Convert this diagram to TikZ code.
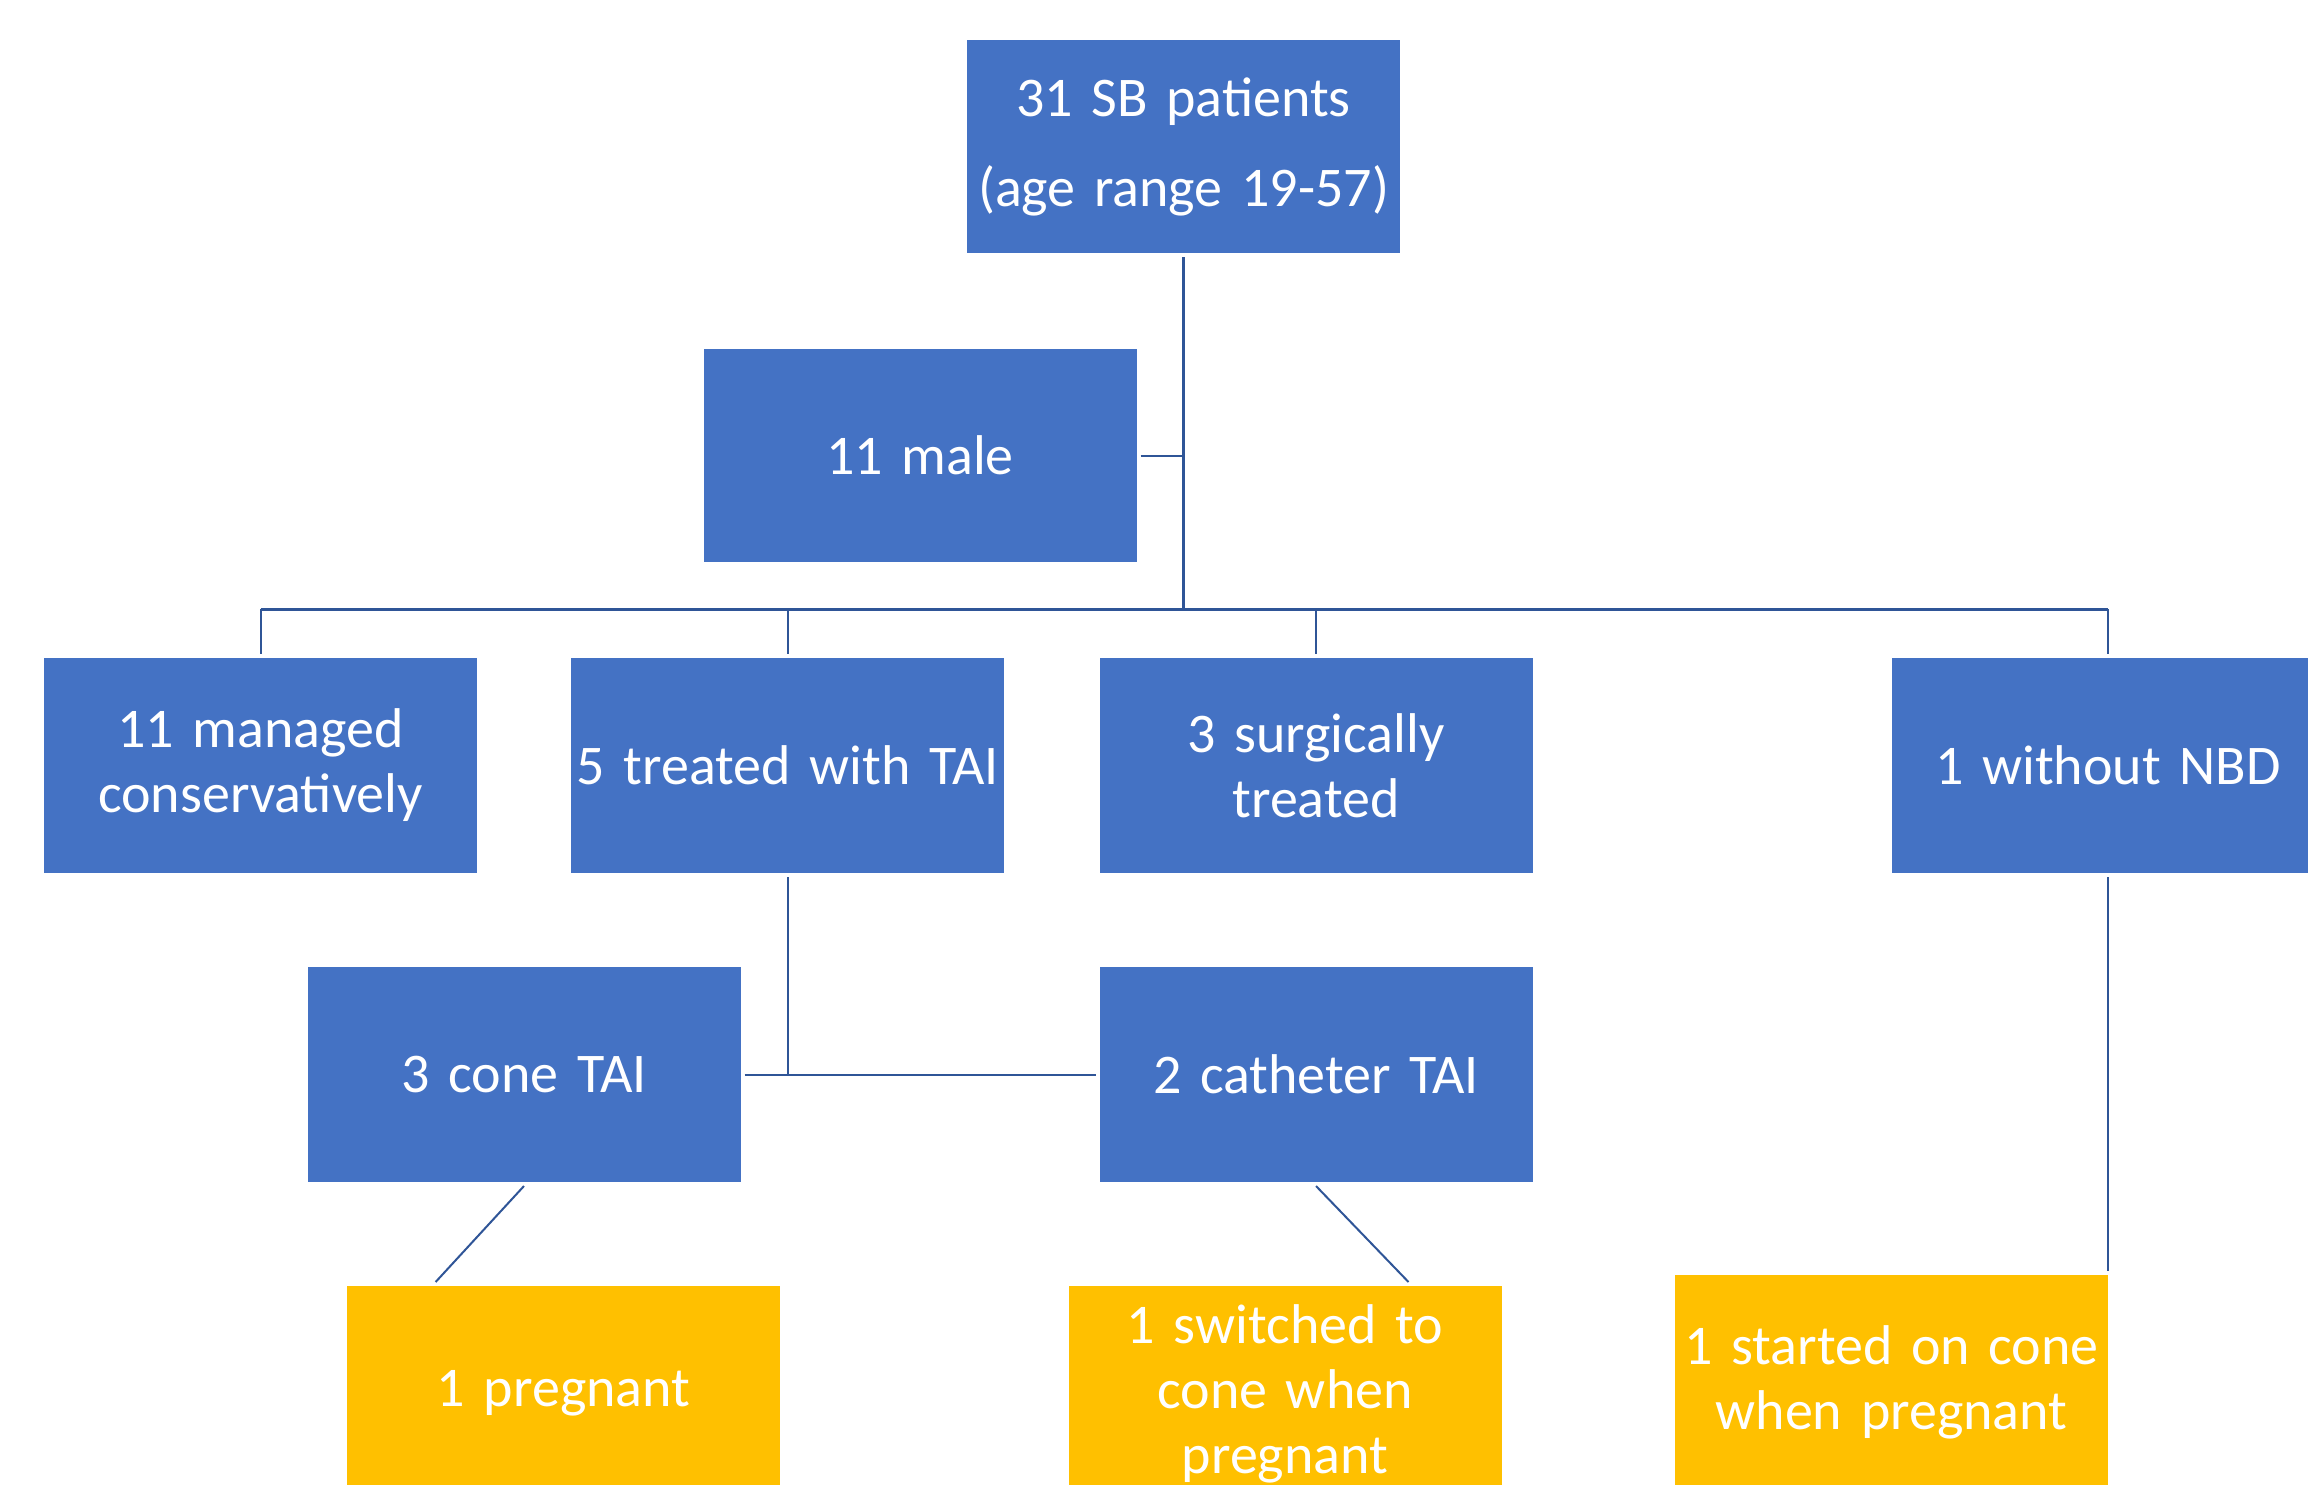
\documentclass[tikz,border=0pt]{standalone}
\usepackage{fontspec}
\setmainfont{Carlito}
\usetikzlibrary{calc}
\definecolor{boxblue}{HTML}{4472C4}
\definecolor{boxyellow}{HTML}{FFC000}
\definecolor{lineblue}{RGB}{47,85,151}
\begin{document}
\begin{tikzpicture}[x=1pt,y=-1pt,
  box/.style={rectangle, fill=boxblue, draw=none, minimum width=433pt, minimum height=215pt,
    text width=433pt, inner sep=0pt, outer sep=4pt, align=center, text=white,
    font=\fontsize{56}{65}\selectfont},
  ybox/.style={box, fill=boxyellow},
  conn/.style={draw=lineblue, line width=2pt},
  trunk/.style={draw=lineblue, line width=3pt}]
\useasboundingbox (0,0) rectangle (2308,1485);
\clip (0,0) rectangle (2308,1485);
% nodes
\node[box, minimum height=213pt] (top) at (1183.5,146.5) {31 SB patients\\[25pt](age range 19-57)};
\node[box, minimum height=213pt] (male) at (920,455.5) {11 male};
\node[box] (man) at (260.5,765.5) {11 managed\\conservatively};
\node[box] (tai) at (787.5,765.5) {5 treated with TAI};
\node[box] (surg) at (1316,765.5) {3 surgically\\treated};
\node[box] (nbd) at (2108,765.5) {1 without NBD};
\node[box] (cone) at (524,1074.5) {3 cone TAI};
\node[box] (cath) at (1316,1074.5) {2 catheter TAI};
\node[ybox] (preg) at (563.5,1393.5) {1 pregnant};
\node[ybox] (sw) at (1285,1393.5) {1 switched to\\cone when\\pregnant};
\node[ybox] (start) at (1891.5,1382.5) {1 started on cone\\when pregnant};
% connectors
\coordinate (bus) at (1183.5,609);
\draw[trunk] (top.south) -- (bus);
\draw[conn] (male.east) -- (male.east -| bus);
\draw[trunk] (man.north |- bus) -- (nbd.north |- bus);
\draw[conn] (man.north |- bus) -- (man.north);
\draw[conn] (tai.north |- bus) -- (tai.north);
\draw[conn] (surg.north |- bus) -- (surg.north);
\draw[conn] (nbd.north |- bus) -- (nbd.north);
\draw[conn] (tai.south) -- (tai.south |- cone.east);
\draw[conn] (cone.east) -- (cath.west);
\draw[conn] (cone.south) -- ($(preg.north west)!0.21!(preg.north east)$);
\draw[conn] (cath.south) -- ($(sw.north west)!0.78!(sw.north east)$);
\draw[conn] (nbd.south) -- (nbd.south |- start.north);
\end{tikzpicture}
\end{document}
